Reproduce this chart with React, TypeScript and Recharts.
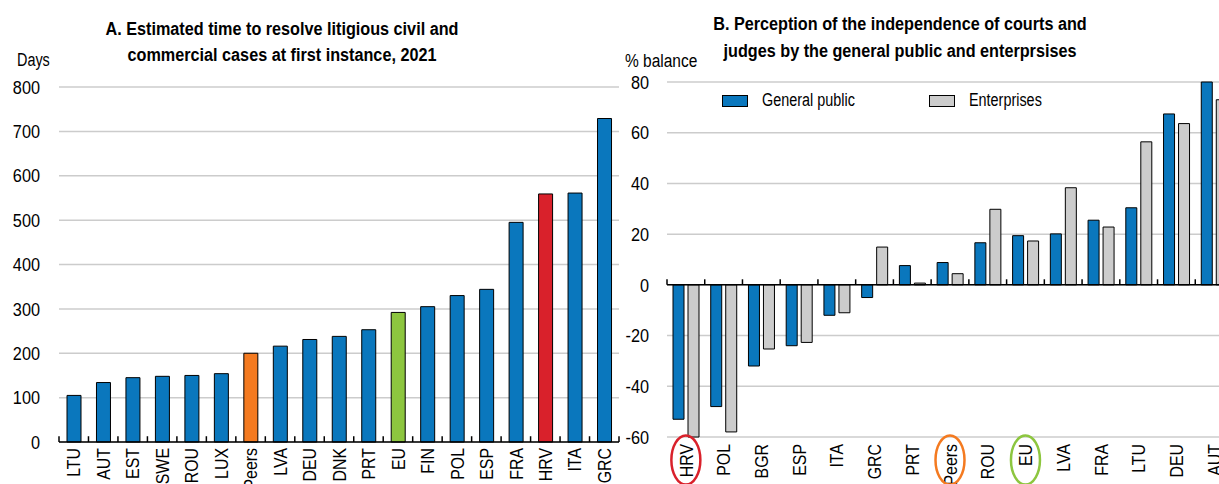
import { BarChart, Bar, Cell, XAxis, YAxis, CartesianGrid, ReferenceLine, Legend } from "recharts";

const FONT = "'Liberation Sans', Arial, sans-serif";

// Panel A: days to resolve cases
const timeCountries = ["LTU", "AUT", "EST", "SWE", "ROU", "LUX", "Peers", "LVA", "DEU", "DNK", "PRT", "EU", "FIN", "POL", "ESP", "FRA", "HRV", "ITA", "GRC"];
const timeDays = [105, 134, 145, 148, 150, 154, 200, 216, 231, 238, 253, 292, 305, 330, 344, 495, 559, 561, 729];
const timeTicks = [0, 100, 200, 300, 400, 500, 600, 700, 800];

// Panel B: perceived independence, % balance
const indepCountries = ["HRV", "POL", "BGR", "ESP", "ITA", "GRC", "PRT", "Peers", "ROU", "EU", "LVA", "FRA", "LTU", "DEU", "AUT"];
const generalPublic = [-53, -48, -32, -24, -12, -5, 7.6, 8.8, 16.6, 19.4, 20.1, 25.5, 30.4, 67.4, 80];
const enterprises = [-60, -58, -25.3, -22.7, -11, 14.9, 0.7, 4.4, 29.8, 17.3, 38.3, 22.8, 56.4, 63.6, 73];
const balanceTicks = [-60, -40, -20, 0, 20, 40, 60, 80];

const BLUE = "#0a77bd";
const GREY = "#cccccc";
const ORANGE = "#f47a20";
const GREEN = "#8dc63f";
const RED = "#d9212b";

const highlight: Record<string, string> = { Peers: ORANGE, EU: GREEN, HRV: RED };

const timeData = timeCountries.map((country, i) => ({ country, days: timeDays[i] }));
const indepData = indepCountries.map((country, i) => ({
  country,
  general: generalPublic[i],
  enterprises: enterprises[i],
}));

// narrow look: Liberation Sans squeezed horizontally
function ValueTick({ x, y, payload }: any) {
  return (
    <text transform={`translate(${x},${y}) scale(0.88,1)`} textAnchor="end" dy="0.36em" fontSize={18.5} fontFamily={FONT} fill="#000">
      {payload.value}
    </text>
  );
}

function RotatedTick({ x, y, payload }: any) {
  return (
    <text transform={`translate(${x},${y}) rotate(-90) scale(0.86,1)`} textAnchor="end" dy="0.36em" fontSize={18.5} fontFamily={FONT} fill="#000">
      {payload.value}
    </text>
  );
}

function CircledTick(props: any) {
  const { x, y, payload } = props;
  const ring = highlight[payload.value];
  return (
    <g>
      <RotatedTick {...props} />
      {ring && <ellipse cx={x} cy={y + 16} rx={14.5} ry={24.5} fill="none" stroke={ring} strokeWidth={2.5} />}
    </g>
  );
}

function KeyLegend() {
  const items = [
    { name: "General public", color: BLUE },
    { name: "Enterprises", color: GREY },
  ];
  return (
    <div style={{ display: "flex", fontFamily: FONT, fontSize: 18, color: "#000" }}>
      {items.map((it) => (
        <div key={it.name} style={{ display: "flex", alignItems: "center", width: 207 }}>
          <span style={{ display: "inline-block", width: 24, height: 10, background: it.color, border: "1px solid #000" }} />
          <span style={{ display: "inline-block", marginLeft: 14, transform: "scaleX(0.8)", transformOrigin: "left center" }}>{it.name}</span>
        </div>
      ))}
    </div>
  );
}

const titleStyle: React.CSSProperties = {
  position: "absolute",
  fontFamily: FONT,
  fontWeight: "bold",
  fontSize: 18,
  textAlign: "center",
  color: "#000",
  whiteSpace: "nowrap",
  width: 500,
  transform: "scaleX(0.9)",
  transformOrigin: "center top",
};

const unitStyle: React.CSSProperties = {
  position: "absolute",
  fontFamily: FONT,
  fontSize: 18,
  color: "#000",
  whiteSpace: "nowrap",
  transformOrigin: "left top",
};

export default function App() {
  const lastA = timeCountries[timeCountries.length - 1];
  const lastB = indepCountries[indepCountries.length - 1];
  return (
    <div style={{ position: "absolute", left: 0, top: 0, width: 1219, height: 484, overflow: "hidden", background: "#fff" }}>
      <div style={{ ...titleStyle, left: 282 - 250, top: 17, lineHeight: "25.5px" }}>
        A. Estimated time to resolve litigious civil and
        <br />
        commercial cases at first instance, 2021
      </div>
      <div style={{ ...unitStyle, left: 17, top: 50, transform: "scaleX(0.8)" }}>Days</div>
      <div style={{ ...titleStyle, left: 900 - 250, top: 11, lineHeight: "27px" }}>
        B. Perception of the independence of courts and
        <br />
        judges by the general public and enterprsises
      </div>
      <div style={{ ...unitStyle, left: 625, top: 51, transform: "scaleX(0.86)" }}>% balance</div>

      <div style={{ position: "absolute", left: 0, top: 0 }}>
        <BarChart width={620} height={484} data={timeData} margin={{ top: 87, right: 1, bottom: 0, left: 0 }} barSize={14}>
          <CartesianGrid vertical={false} stroke="#cccccc" strokeWidth={1.5} />
          <XAxis
            dataKey="country"
            interval={0}
            height={42}
            tickLine={false}
            tickSize={0}
            tickMargin={6}
            axisLine={{ stroke: "#000", strokeWidth: 1.5 }}
            tick={(p: any) => <RotatedTick {...p} />}
          />
          <YAxis
            domain={[0, 800]}
            ticks={timeTicks}
            width={59}
            axisLine={false}
            tickLine={false}
            tickSize={0}
            tickMargin={19}
            tick={(p: any) => <ValueTick {...p} />}
          />
          <Bar dataKey="days" stroke="#000" strokeWidth={1} isAnimationActive={false}>
            {timeData.map((d) => (
              <Cell key={d.country} fill={highlight[d.country] ?? BLUE} />
            ))}
          </Bar>
          {timeCountries.map((c) => (
            <ReferenceLine key={c} segment={[{ x: c, y: 0 }, { x: c, y: 13 }]} position="start" stroke="#000" strokeWidth={1.5} />
          ))}
          <ReferenceLine segment={[{ x: lastA, y: 0 }, { x: lastA, y: 13 }]} position="end" stroke="#000" strokeWidth={1.5} />
        </BarChart>
      </div>

      <div style={{ position: "absolute", left: 610, top: 0 }}>
        <BarChart width={623} height={484} data={indepData} margin={{ top: 82, right: 0, bottom: 0, left: 0 }} barSize={11} barGap={4}>
          <CartesianGrid vertical={false} stroke="#cccccc" strokeWidth={1.5} />
          <XAxis
            dataKey="country"
            interval={0}
            height={47}
            tickLine={false}
            axisLine={false}
            tickSize={0}
            tickMargin={7}
            tick={(p: any) => <CircledTick {...p} />}
          />
          <YAxis
            domain={[-60, 80]}
            ticks={balanceTicks}
            width={57}
            axisLine={false}
            tickLine={false}
            tickSize={0}
            tickMargin={18}
            tick={(p: any) => <ValueTick {...p} />}
          />
          <Legend
            layout="horizontal"
            verticalAlign="middle"
            align="center"
            wrapperStyle={{ top: 90, left: 112, width: 420 }}
            content={() => <KeyLegend />}
          />
          <Bar dataKey="general" name="General public" fill={BLUE} stroke="#000" strokeWidth={1} isAnimationActive={false} />
          <Bar dataKey="enterprises" name="Enterprises" fill={GREY} stroke="#000" strokeWidth={1} isAnimationActive={false} />
          <ReferenceLine y={0} stroke="#000" strokeWidth={1.5} />
          {indepCountries.map((c) => (
            <ReferenceLine key={c} segment={[{ x: c, y: 0 }, { x: c, y: 2.2 }]} position="start" stroke="#000" strokeWidth={1.5} />
          ))}
          <ReferenceLine segment={[{ x: lastB, y: 0 }, { x: lastB, y: 2.2 }]} position="end" stroke="#000" strokeWidth={1.5} />
        </BarChart>
      </div>
    </div>
  );
}
